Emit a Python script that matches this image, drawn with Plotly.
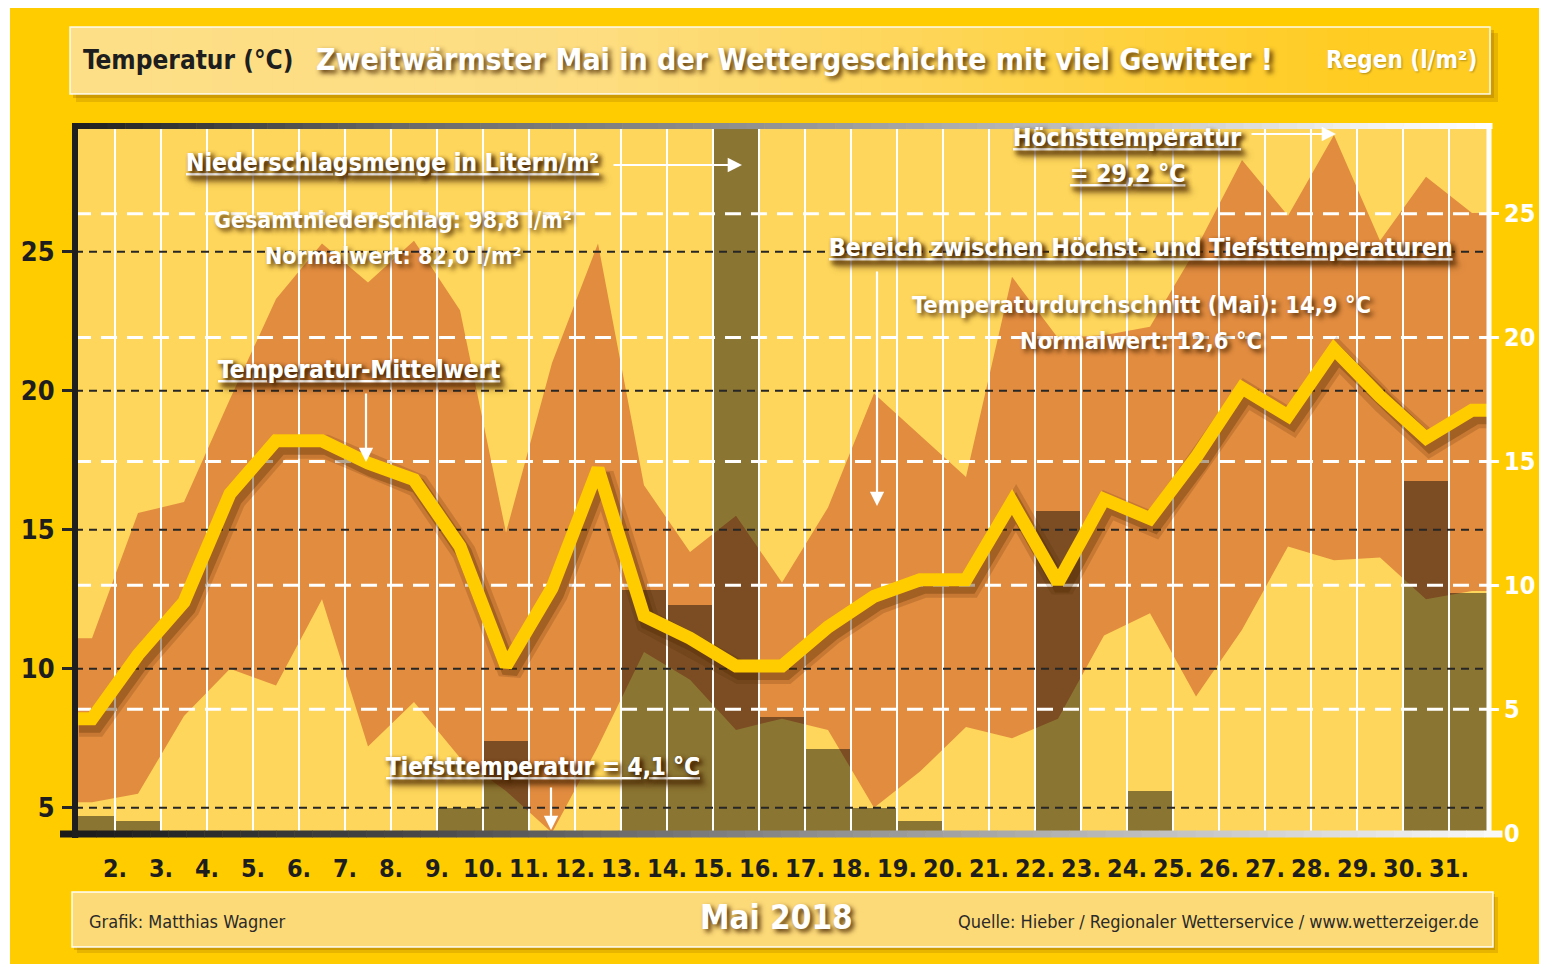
import plotly.graph_objects as go

# ---------------- data ----------------
days = list(range(1, 32))
t_max = [11.1, 15.6, 16.0, 19.7, 23.3, 25.3, 23.9, 25.4, 22.9, 14.9, 21.0, 25.3, 16.6, 14.2, 15.5, 13.1,
         15.8, 19.9, 18.4, 16.9, 24.1, 21.9, 22.0, 22.3, 25.1, 28.3, 26.3, 29.2, 25.4, 27.7, 26.4]
t_min = [5.2, 5.5, 8.3, 10.0, 9.4, 12.5, 7.2, 8.8, 6.8, 5.6, 4.1, 7.2, 10.6, 9.6, 7.8, 8.2,
         7.8, 5.0, 6.3, 7.9, 7.5, 8.2, 11.2, 12.0, 9.0, 11.4, 14.4, 13.9, 14.0, 12.5, 12.8]
t_mean = [8.2, 10.5, 12.4, 16.3, 18.2, 18.2, 17.4, 16.8, 14.4, 10.1, 12.9, 17.2, 11.9, 11.1, 10.1, 10.1,
          11.5, 12.6, 13.2, 13.2, 16.0, 13.1, 16.1, 15.4, 17.6, 20.1, 19.1, 21.5, 19.8, 18.3, 19.3]
rain = [0.7, 0.5, 0, 0, 0, 0, 0, 0, 1.0, 3.7, 0.1, 0, 9.8, 9.2, 28.6, 4.7,
        3.4, 1.0, 0.5, 0, 0, 13.0, 0, 1.7, 0, 0, 0, 0, 0, 14.2, 9.7]
tick_days = list(range(2, 32))
tick_text = [f"{d}." for d in tick_days]
temp_ticks = [5, 10, 15, 20, 25]
rain_ticks = [0, 5, 10, 15, 20, 25]

# ---------------- geometry / style ----------------
FONT = "DejaVu Sans Condensed, Liberation Sans Narrow, Arial Narrow, sans-serif"
W, H = 1549, 969
L, R, T, B = 75, 1487, 127, 833
X0, X1 = 0.6304, 31.326
Y0, Y1 = 4.09, 29.49
R0, R1 = 0.0, 28.5
ORANGE = "#E28C3F"
PLOTBG = "#FED65B"
SHADOW = "3px 3px 5px rgba(70,35,0,0.9)"


def px(x):
    return (x - L) / (R - L)


def py(y):
    return (B - y) / (B - T)


def ext(a):
    return [a[0]] + list(a) + [a[-1]]


xs = [X0] + days + [X1]

fig = go.Figure()
# range between max and min temperature
fig.add_trace(go.Scatter(x=xs, y=ext(t_max), mode="lines", line=dict(width=0, color="rgba(0,0,0,0)"),
                         hoverinfo="skip", showlegend=False))
fig.add_trace(go.Scatter(x=xs, y=ext(t_min), mode="lines", fill="tonexty", fillcolor=ORANGE,
                         line=dict(width=0, color="rgba(0,0,0,0)"), hoverinfo="skip", showlegend=False))
# rain bars
fig.add_trace(go.Bar(x=days, y=rain, width=1.0, yaxis="y2",
                     marker=dict(color="rgba(0,0,0,0.45)", line=dict(width=0)),
                     hoverinfo="skip", showlegend=False))
# vertical white grid lines
vx, vy = [], []
for d in tick_days:
    vx += [d - 0.5, d - 0.5, None]
    vy += [R0, R1, None]
fig.add_trace(go.Scatter(x=vx, y=vy, yaxis="y2", mode="lines", line=dict(color="white", width=2),
                         hoverinfo="skip", showlegend=False))
# white dashed rain grid
wx, wy = [], []
for r in rain_ticks[1:]:
    wx += [X0, X1, None]
    wy += [r, r, None]
fig.add_trace(go.Scatter(x=wx, y=wy, yaxis="y2", mode="lines",
                         line=dict(color="white", width=3, dash="16px,10px"),
                         hoverinfo="skip", showlegend=False))
# black dashed temperature grid
bx, by = [], []
for t in temp_ticks:
    bx += [X0, X1, None]
    by += [t, t, None]
fig.add_trace(go.Scatter(x=bx, y=by, yaxis="y3", mode="lines",
                         line=dict(color="#262626", width=2, dash="8px,6px"),
                         hoverinfo="skip", showlegend=False))
# mean temperature line with shadow
dx, dy = 4 / 46, 6 / 27.8
sx = [v + dx for v in xs]
sy = [v - dy for v in ext(t_mean)]
fig.add_trace(go.Scatter(x=sx, y=sy, yaxis="y3", mode="lines",
                         line=dict(color="rgba(80,40,0,0.18)", width=24), hoverinfo="skip", showlegend=False))
fig.add_trace(go.Scatter(x=sx, y=sy, yaxis="y3", mode="lines",
                         line=dict(color="rgba(80,40,0,0.30)", width=16), hoverinfo="skip", showlegend=False))
fig.add_trace(go.Scatter(x=xs, y=ext(t_mean), yaxis="y3", mode="lines",
                         line=dict(color="#FFCC00", width=13), hoverinfo="skip", showlegend=False))

# ---------------- shapes ----------------
shapes = []


def rect(x0, y0, x1, y1, fill, line=None, lw=0, layer="below"):
    shapes.append(dict(type="rect", xref="paper", yref="paper", x0=px(x0), x1=px(x1), y0=py(y1), y1=py(y0),
                       fillcolor=fill, line=dict(width=lw, color=line or "rgba(0,0,0,0)"), layer=layer))


def lerp(stops, x):
    for (p0, c0), (p1, c1) in zip(stops[:-1], stops[1:]):
        if x <= p1:
            t = max(0.0, min(1.0, (x - p0) / (p1 - p0)))
            return "rgb(%d,%d,%d)" % tuple(round(a + (b - a) * t) for a, b in zip(c0, c1))
    return "rgb(%d,%d,%d)" % stops[-1][1]


# white page margins
rect(0, 0, W, 8, "white")
rect(0, 0, 10, H, "white")
rect(1539, 0, W, H, "white")
rect(0, 964, W, H, "white")

# header box
rect(76, 33, 1498, 102, "rgba(120,70,0,0.18)")
rect(73, 30, 1494, 98, "rgba(120,70,0,0.22)")
hstops = [(70, (253, 223, 136)), (600, (253, 221, 128)), (1350, (255, 204, 34)), (1490, (255, 204, 34))]
n = 70
for i in range(n):
    xa = 70 + (1490 - 70) * i / n
    xb = 70 + (1490 - 70) * (i + 1) / n + 0.8
    rect(xa, 27, xb, 94, lerp(hstops, (xa + xb) / 2))
rect(70, 27, 1490, 94, "rgba(0,0,0,0)", line="rgba(255,255,255,0.9)", lw=1.5)

# footer box
rect(77, 897, 1498, 953, "rgba(120,70,0,0.18)")
rect(74, 894, 1495, 950, "rgba(120,70,0,0.22)")
rect(72, 892, 1493, 947, "#FDDA78", line="rgba(255,255,255,0.95)", lw=1.5)

# frame: gradient top and bottom, black left, white right
top_stops = [(72, (30, 30, 30)), (400, (105, 105, 105)), (800, (150, 150, 150)), (1150, (200, 200, 200)),
             (1350, (240, 240, 240)), (1492, (255, 255, 255))]
bot_stops = [(60, (25, 25, 25)), (400, (70, 70, 70)), (800, (140, 140, 140)), (1180, (195, 195, 195)),
             (1502, (250, 250, 250))]
n = 80
for i in range(n):
    xa = 72 + (1492 - 72) * i / n
    xb = 72 + (1492 - 72) * (i + 1) / n + 0.5
    shapes.append(dict(type="line", xref="paper", yref="paper", x0=px(xa), x1=px(xb), y0=py(126), y1=py(126),
                       line=dict(color=lerp(top_stops, (xa + xb) / 2), width=6), layer="above"))
shapes.append(dict(type="line", xref="paper", yref="paper", x0=px(1489), x1=px(1489), y0=py(836), y1=py(123),
                   line=dict(color="white", width=5), layer="above"))
for i in range(n):
    xa = 60 + (1502 - 60) * i / n
    xb = 60 + (1502 - 60) * (i + 1) / n + 0.5
    shapes.append(dict(type="line", xref="paper", yref="paper", x0=px(xa), x1=px(xb), y0=py(834), y1=py(834),
                       line=dict(color=lerp(bot_stops, (xa + xb) / 2), width=7), layer="above"))
shapes.append(dict(type="line", xref="paper", yref="paper", x0=px(75), x1=px(75), y0=py(838), y1=py(123),
                   line=dict(color="#1E1E1E", width=6), layer="above"))

# ---------------- annotations ----------------
anns = []


def ann(text, x, y, size, color="white", bold=True, xanchor="left", underline=False, shadow=True, align="left"):
    font = dict(family=FONT, size=size, color=color, weight="bold" if bold else "normal")
    if shadow:
        font["shadow"] = SHADOW if shadow is True else shadow
    if underline:
        font["lineposition"] = "under"
    anns.append(dict(text=text, x=px(x), y=py(y), xref="paper", yref="paper", xanchor=xanchor,
                     yanchor="middle", showarrow=False, font=font, align=align))


def arrow(x0, y0, x1, y1):
    anns.append(dict(text="", x=px(x1), y=py(y1), xref="paper", yref="paper", ax=x0 - x1, ay=y0 - y1,
                     axref="pixel", ayref="pixel", showarrow=True, arrowhead=2, arrowsize=1.3,
                     arrowwidth=2.2, arrowcolor="white", standoff=0, startstandoff=0))


# header
ann("Temperatur (°C)", 81, 60, 26, color="#1E1E1E", shadow=False)
ann("Zweitwärmster Mai in der Wettergeschichte mit viel Gewitter !", 314, 60, 30)
ann("Regen (l/m²)", 1479, 60, 24, xanchor="right", shadow="1px 1px 2px rgba(0,0,0,0.3)")

# chart texts
ann("Niederschlagsmenge in Litern/m²", 184, 162, 24.5, underline=True)
arrow(612, 165, 742, 165)
ann("Gesamtniederschlag: 98,8 l/m²", 393, 220, 23, xanchor="center")
ann("Normalwert: 82,0 l/m²", 393, 256, 23, xanchor="center")
ann("Temperatur-Mittelwert", 216, 369, 24.5, underline=True)
arrow(366, 392, 366, 462)
ann("Tiefsttemperatur = 4,1 °C", 384, 767, 24, underline=True)
arrow(551, 786, 551, 830)
ann("Höchsttemperatur", 1127, 137, 24.5, xanchor="center", underline=True)
ann("= 29,2 °C", 1127, 173, 24.5, xanchor="center", underline=True)
arrow(1250, 134, 1336, 134)
ann("Bereich zwischen Höchst- und Tiefsttemperaturen", 827, 247, 24.5, underline=True)
arrow(877, 270, 877, 506)
ann("Temperaturdurchschnitt (Mai): 14,9 °C", 1141, 305, 23.5, xanchor="center")
ann("Normalwert: 12,6 °C", 1141, 341, 23.5, xanchor="center")

# footer
ann("Grafik: Matthias Wagner", 87, 921, 18, color="#2A2A2A", bold=False, shadow=False)
ann("Mai 2018", 776, 917, 33, xanchor="center")
ann("Quelle: Hieber / Regionaler Wetterservice / www.wetterzeiger.de", 1481, 921, 18, color="#2A2A2A",
    bold=False, shadow=False, xanchor="right")

tickfont_dark = dict(family=FONT, size=27, color="#1E1E1E", weight="bold")
tickfont_white = dict(family=FONT, size=25, color="white", weight="bold")

fig.update_layout(
    width=W, height=H, autosize=False,
    margin=dict(l=L, r=W - R, t=T, b=H - B, pad=0),
    paper_bgcolor="#FFCC00", plot_bgcolor=PLOTBG,
    showlegend=False, bargap=0,
    shapes=shapes, annotations=anns,
    xaxis=dict(range=[X0, X1], tickvals=[d - 0.5 for d in tick_days], ticktext=tick_text,
               showgrid=False, zeroline=False, showline=False, ticks="", tickangle=0,
               tickfont=dict(family=FONT, size=25, color="#1E1E1E", weight="bold"),
               ticklabelstandoff=18, fixedrange=True, automargin=False),
    yaxis=dict(range=[Y0, Y1], tickvals=temp_ticks, ticks="outside", ticklen=12, tickwidth=2.5,
               tickcolor="#262626", tickfont=tickfont_dark, showgrid=False, zeroline=False,
               showline=False, ticklabelstandoff=2, fixedrange=True, automargin=False),
    yaxis2=dict(range=[R0, R1], overlaying="y", side="right", tickvals=rain_ticks, ticks="outside",
                ticklen=11, tickwidth=3, tickcolor="white", tickfont=tickfont_white, showgrid=False,
                zeroline=False, showline=False, ticklabelstandoff=0, fixedrange=True, automargin=False),
    yaxis3=dict(range=[Y0, Y1], overlaying="y", visible=False, fixedrange=True, automargin=False),
)

fig.write_html("out.html", config={"displayModeBar": False},
               post_script="document.body.style.margin='0';")
